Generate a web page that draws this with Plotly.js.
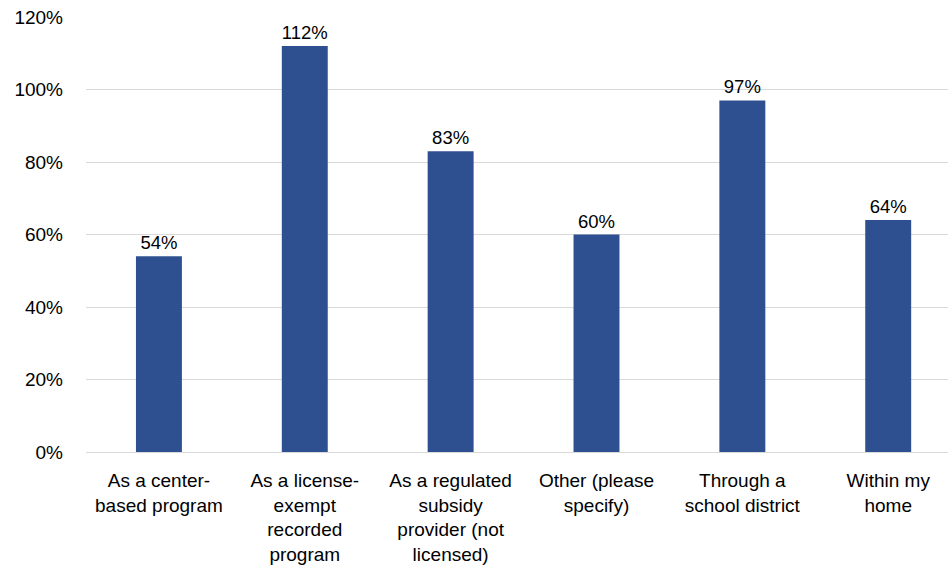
<!DOCTYPE html>
<html><head><meta charset="utf-8">
<script src="https://cdn.plot.ly/plotly-3.0.1.min.js"></script>
<style>html,body{margin:0;padding:0;background:#fff}#c{width:948px;height:570px}</style>
</head><body><div id="c"></div>
<script>
const categories = [
  "As a center-<br>based program",
  "As a license-<br>exempt<br>recorded<br>program",
  "As a regulated<br>subsidy<br>provider (not<br>licensed)",
  "Other (please<br>specify)",
  "Through a<br>school district",
  "Within my<br>home"
];
const values = [54, 112, 83, 60, 97, 64];
const yTicks = [0, 20, 40, 60, 80, 100, 120];

const font = {family: "Liberation Sans, Arial, sans-serif", size: 19, color: "#000"};
const labelFont = {family: "Liberation Sans, Arial, sans-serif", size: 18.5, color: "#000"};
Plotly.newPlot("c", [{
  type: "bar",
  x: categories.map((c, i) => i),
  y: values,
  marker: {color: "#2E5090"},
  text: values.map(v => v + "%"),
  textposition: "outside",
  textfont: labelFont,
  cliponaxis: false,
  hoverinfo: "none"
}], {
  width: 948, height: 570,
  margin: {l: 86, r: 0, t: 17, b: 118},
  paper_bgcolor: "#fff", plot_bgcolor: "#fff",
  bargap: 0.685,
  showlegend: false,
  font: font,
  xaxis: {
    range: [-0.5, 5.41],
    tickmode: "array",
    tickvals: categories.map((c, i) => i),
    ticktext: categories,
    showgrid: false, zeroline: false,
    showline: false,
    ticks: "", ticklabelstandoff: 15,
    tickfont: font
  },
  yaxis: {
    range: [0, 120],
    tickmode: "array",
    tickvals: yTicks,
    ticktext: yTicks.map(v => v + "%"),
    showgrid: true, gridcolor: "#d9d9d9", gridwidth: 1,
    zeroline: true, zerolinecolor: "#d9d9d9", zerolinewidth: 1,
    ticks: "", ticklabelstandoff: 22,
    tickfont: font
  }
}, {displayModeBar: false, staticPlot: true});
</script>
</body></html>
